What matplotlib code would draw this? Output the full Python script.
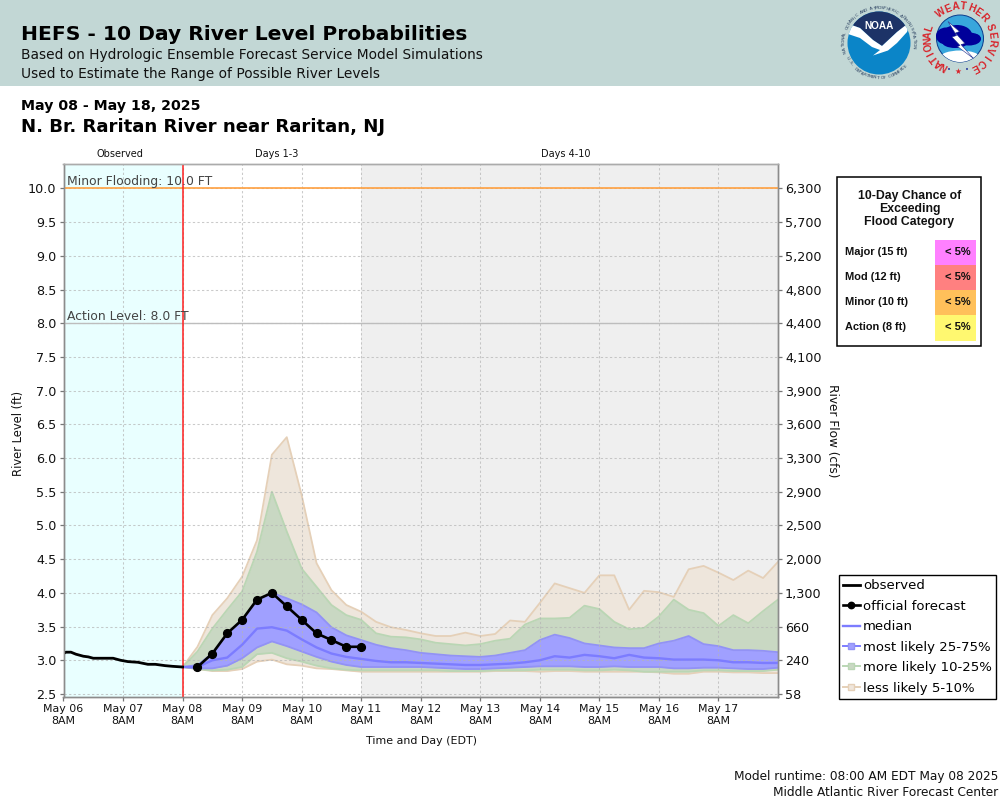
import numpy as np
import matplotlib
matplotlib.use("Agg")
import matplotlib.pyplot as plt
from matplotlib.lines import Line2D
from matplotlib.patches import Rectangle, Circle, Ellipse, Polygon

# ---- data (x in hours from May 08 8AM) ----
obs_hours = [-48,-47,-45,-43,-40,-38,-36,-32,-28,-25,-22,-18,-14,-11,-7,-4,0]
obs_level = [3.10,3.12,3.12,3.09,3.06,3.05,3.03,3.03,3.03,3.00,2.98,2.97,2.94,2.94,2.92,2.91,2.90]
fc_hours = [6,12,18,24,30,36,42,48,54,60,66,72]
fc_level = [2.9,3.1,3.4,3.6,3.9,4.0,3.8,3.6,3.4,3.3,3.2,3.2]
ens_hours = list(range(0,241,6))
tan_top = [2.9,3.2,3.67,3.92,4.24,4.78,6.05,6.31,5.45,4.44,4.04,3.82,3.72,3.57,3.49,3.45,3.40,3.36,3.36,3.41,3.36,3.39,3.59,3.57,3.85,4.14,4.07,4.0,4.26,4.26,3.75,4.03,4.01,3.94,4.35,4.40,4.30,4.19,4.33,4.22,4.46]
green_top = [2.9,3.13,3.47,3.75,4.02,4.61,5.5,4.91,4.36,4.09,3.82,3.67,3.6,3.4,3.35,3.34,3.31,3.26,3.24,3.22,3.24,3.29,3.32,3.53,3.62,3.62,3.63,3.81,3.76,3.57,3.46,3.48,3.65,3.9,3.75,3.7,3.51,3.67,3.55,3.73,3.9]
blue_top = [2.9,2.93,3.1,3.4,3.6,3.87,4.0,3.92,3.83,3.71,3.49,3.37,3.3,3.23,3.18,3.15,3.11,3.09,3.07,3.06,3.05,3.07,3.11,3.15,3.30,3.38,3.33,3.25,3.22,3.19,3.18,3.18,3.25,3.29,3.36,3.24,3.21,3.15,3.15,3.14,3.12]
median = [2.9,2.9,3.0,3.04,3.23,3.47,3.49,3.44,3.31,3.19,3.1,3.05,3.02,2.99,2.97,2.97,2.96,2.95,2.94,2.93,2.93,2.94,2.95,2.97,3.0,3.06,3.04,3.08,3.06,3.03,3.08,3.04,3.03,3.01,3.01,3.01,3.0,2.97,2.97,2.96,2.96]
blue_bot = [2.9,2.88,2.88,2.92,3.03,3.19,3.28,3.21,3.13,3.05,2.98,2.93,2.9,2.9,2.9,2.9,2.9,2.89,2.88,2.87,2.87,2.88,2.89,2.9,2.91,2.91,2.91,2.9,2.9,2.91,2.9,2.9,2.9,2.88,2.88,2.89,2.89,2.88,2.87,2.87,2.89]
green_bot = [2.9,2.87,2.85,2.86,2.9,3.09,3.11,3.03,2.98,2.92,2.88,2.86,2.85,2.85,2.85,2.85,2.85,2.85,2.84,2.84,2.84,2.85,2.85,2.85,2.86,2.86,2.86,2.85,2.85,2.86,2.85,2.83,2.83,2.83,2.83,2.85,2.85,2.84,2.84,2.84,2.86]
tan_bot = [2.9,2.87,2.84,2.84,2.87,2.98,3.01,2.94,2.92,2.88,2.87,2.85,2.83,2.83,2.83,2.83,2.83,2.83,2.83,2.83,2.83,2.84,2.84,2.84,2.83,2.84,2.84,2.83,2.83,2.83,2.83,2.83,2.82,2.80,2.80,2.83,2.83,2.82,2.82,2.81,2.81]

level_ticks = [2.5,3.0,3.5,4.0,4.5,5.0,5.5,6.0,6.5,7.0,7.5,8.0,8.5,9.0,9.5,10.0]
flow_labels = ["58","240","660","1,300","2,000","2,500","2,900","3,300","3,600","3,900","4,100","4,400","4,800","5,200","5,700","6,300"]
day_hours = list(range(-48,217,24))
day_labels = ["May %02d\n8AM" % d for d in range(6,18)]
cat_names = ["Major (15 ft)","Mod (12 ft)","Minor (10 ft)","Action (8 ft)"]
cat_chance = ["< 5%","< 5%","< 5%","< 5%"]
cat_colors = ["#FF80FF","#FF8080","#FFC05A","#FFF870"]

TAN="#EEE6DC"; GREEN="#C9D8C3"; BLUE="#A0A0FF"
TAN_E="#E5D0B8"; GREEN_E="#BAD6B4"; BLUE_E="#9292F5"; MED="#7C7CFF"

fig = plt.figure(figsize=(10,8),dpi=100,facecolor="white")
L,R,T,B = 63.5,778,164,697
ax = fig.add_axes([L/1000,1-B/800,(R-L)/1000,(B-T)/800])
ax.set_xlim(-48,240)
ax.set_ylim(2.455,10.363)
ax.axvspan(-48,0,color="#E9FFFF",lw=0,zorder=0)
ax.axvspan(72,240,color="#EFEFEF",lw=0,zorder=0)
ax.set_axisbelow(False)
ax.grid(True,color="#B4B4B4",alpha=0.7,ls=(0,(2.2,2.2)),lw=0.75,zorder=3.5)
ax.set_xticks(day_hours); ax.set_xticklabels(day_labels,fontsize=7.9,linespacing=1.2,color="#111111")
ax.set_yticks(level_ticks); ax.set_yticklabels(["%.1f"%v for v in level_ticks],fontsize=9.2,color="#111111")
ax.tick_params(axis="both",color="#777777",length=3,width=0.9,pad=2)
def style_spines(a):
    for s in a.spines.values():
        s.set_linewidth(1.0); s.set_color("#8C8C8C")
    a.spines["top"].set_color("#ABABAB")
style_spines(ax)

h=ens_hours
ax.fill_between(h,tan_bot,tan_top,color=TAN,lw=0,zorder=2)
ax.fill_between(h,green_bot,green_top,color=GREEN,lw=0,zorder=2.1)
ax.fill_between(h,blue_bot,blue_top,color=BLUE,lw=0,zorder=2.2)
for s,c,z in [(tan_top,TAN_E,2.05),(tan_bot,TAN_E,2.05),(green_top,GREEN_E,2.15),(green_bot,GREEN_E,2.15),(blue_top,BLUE_E,2.25),(blue_bot,BLUE_E,2.25)]:
    ax.plot(h,s,color=c,lw=1.3,zorder=z)
ax.plot(h,median,color=MED,lw=1.7,zorder=4)
ax.axhline(10,color="#FFA040",lw=1.2,zorder=3)
ax.axhline(8,color="#BDBDBD",lw=1.0,zorder=3)
ax.axvline(0,color="#FF2020",lw=1.1,zorder=5)
ax.plot(obs_hours,obs_level,color="black",lw=2.0,zorder=6)
ax.plot(fc_hours,fc_level,color="black",lw=1.9,marker="o",ms=5.6,zorder=7)
ax.text(-46.7,10.0+0.005,"Minor Flooding: 10.0 FT",fontsize=8.95,color="#444444",va="bottom",ha="left",zorder=8)
ax.text(-46.7,8.0+0.005,"Action Level: 8.0 FT",fontsize=8.95,color="#444444",va="bottom",ha="left",zorder=8)

ax2=ax.twinx()
ax2.set_ylim(ax.get_ylim())
ax2.set_yticks(level_ticks); ax2.set_yticklabels(flow_labels,fontsize=9.2,color="#111111")
ax2.tick_params(axis="y",color="#777777",length=3,width=0.9,pad=2)
style_spines(ax2)

handles=[
 Line2D([],[],color="black",lw=2.0),
 Line2D([],[],color="black",lw=1.9,marker="o",ms=4.6),
 Line2D([],[],color=MED,lw=1.7),
 Line2D([],[],color=MED,lw=1.4,marker="s",ms=5,mfc="#A0A0FF",mec=BLUE_E),
 Line2D([],[],color=GREEN_E,lw=1.4,marker="s",ms=5,mfc="#C9D8C3",mec=GREEN_E),
 Line2D([],[],color=TAN_E,lw=1.4,marker="s",ms=5,mfc="#EFE6DC",mec=TAN_E),
]
leg=fig.legend(handles,["observed","official forecast","median","most likely 25-75%","more likely 10-25%","less likely 5-10%"],
    loc="lower left",bbox_to_anchor=(839/1000,1-698.5/800),bbox_transform=fig.transFigure,
    fontsize=9.55,frameon=True,fancybox=False,edgecolor="black",framealpha=1,
    handlelength=1.25,handletextpad=0.25,borderpad=0.3,labelspacing=0.56,borderaxespad=0)
leg.get_frame().set_linewidth(1.0)
leg.set_zorder(20)

# overlay in pixel coordinates
ov=fig.add_axes([0,0,1,1],zorder=10)
ov.set_xlim(0,1000); ov.set_ylim(800,0); ov.axis("off"); ov.patch.set_alpha(0)
ov.add_patch(Rectangle((0,0),1000,86,fc="#C2D7D5",ec="none"))
def tx(x,y,s,**k):
    k.setdefault("va","baseline"); k.setdefault("ha","left")
    ov.text(x,y,s,**k)
tx(21,40,"HEFS - 10 Day River Level Probabilities",fontsize=14.6,fontweight="bold",color="black")
tx(21,59,"Based on Hydrologic Ensemble Forecast Service Model Simulations",fontsize=9.95,color="#111111")
tx(21,78,"Used to Estimate the Range of Possible River Levels",fontsize=9.95,color="#111111")
tx(21,110,"May 08 - May 18, 2025",fontsize=10.2,fontweight="bold",color="black")
tx(21,132,"N. Br. Raritan River near Raritan, NJ",fontsize=13.1,fontweight="bold",color="black")
tx(120,157,"Observed",fontsize=7,ha="center",color="#111111")
tx(276.5,157,"Days 1-3",fontsize=7,ha="center",color="#111111")
tx(566,157,"Days 4-10",fontsize=7,ha="center",color="#111111")
tx(19,433,"River Level (ft)",fontsize=8.3,rotation=90,ha="center",va="center",color="#111111")
tx(832,431,"River Flow (cfs)",fontsize=8.7,rotation=270,ha="center",va="center",color="#111111")
tx(421,743.5,"Time and Day (EDT)",fontsize=7.9,ha="center",color="#111111")
tx(998,780,"Model runtime: 08:00 AM EDT May 08 2025",fontsize=8.78,ha="right",color="#111111")
tx(998,796,"Middle Atlantic River Forecast Center",fontsize=8.78,ha="right",color="#111111")

# flood-category panel
ov.add_patch(Rectangle((836.5,176.5),144,169,fc="white",ec="black",lw=1.1))
for i,t in enumerate(["10-Day Chance of","Exceeding","Flood Category"]):
    tx(909.5,199+13*i,t,family="Liberation Sans",fontweight="bold",fontsize=8.85,ha="center",color="#111111")
for i,(n,c,col) in enumerate(zip(cat_names,cat_chance,cat_colors)):
    top=240+25*i
    ov.add_patch(Rectangle((935,top),41,25.5,fc=col,ec="none"))
    tx(845,top+15,n,family="Liberation Sans",fontweight="bold",fontsize=7.95,color="#111111")
    tx(957.5,top+15,c,family="Liberation Sans",fontweight="bold",fontsize=8,ha="center",color="#111111")

def ring(cx,cy,r,s,a0,a1,flip=False,**k):
    for ch,a in zip(s,np.linspace(a0,a1,len(s))):
        rad=np.deg2rad(a)
        ov.text(cx+r*np.sin(rad),cy-r*np.cos(rad),ch,rotation=(180-a) if flip else -a,
                rotation_mode="anchor",ha="center",va="center",**k)

# NOAA emblem
cx,cy=879,43
disc=Circle((cx,cy),31.5,fc="#0B85C8",ec="none"); ov.add_patch(disc)
navy=Polygon([(846,23),(860,28),(873,40),(882,46),(897,32),(911,22),(911,5),(846,5)],fc="#1D3367",ec="none"); ov.add_patch(navy); navy.set_clip_path(disc)
bird=Polygon([(845,33),(860,38),(872,47),(880,50),(873,55.5),(888,50.5),(897,43),(907,32),(911,21),(897,32),(882,46),(873,40),(860,28),(846,23)],fc="white",ec="none"); ov.add_patch(bird); bird.set_clip_path(disc)
tx(879,29,"NOAA",family="Liberation Sans",fontweight="bold",fontsize=7.2,ha="center",color="white")
ring(cx,cy,35,"NATIONAL OCEANIC AND ATMOSPHERIC ADMINISTRATION",-104,96,fontsize=3.2,color="#2A4060")
ring(cx,cy,35,"U.S. DEPARTMENT OF COMMERCE"[::-1],131,244,flip=True,fontsize=3.2,color="#2A4060")

# NWS emblem
cx,cy=960,38.5
sky=Circle((cx,cy),23.5,fc="#38A6DC",ec="#0B3C8C",lw=0.7); ov.add_patch(sky)
ground=Ellipse((cx,cy+19),40,14,fc="white",ec="none"); ov.add_patch(ground); ground.set_clip_path(sky)
for ex,ey,ew,eh in [(946,36,20,17),(957,35,30,20),(969,39,24,13),(975,38,11,8),(955,42,26,12)]:
    ov.add_patch(Ellipse((ex,ey),ew,eh,fc="#00009A",ec="none"))
ov.add_patch(Polygon([(948,21.5),(959.5,31.5),(955.5,33),(965,43.5),(961,44.5),(973.5,58.5),(957.5,46.5),(960,45.5),(952,37),(956.5,35.5)],fc="white",ec="#1C2C8C",lw=0.4))
nws=dict(fontsize=7.2,fontweight="bold",family="Liberation Sans",color="#D8232A")
ring(cx,cy,32,"NATIONAL",-150,-72,**nws)
ring(cx,cy,32,"WEATHER",-36,49,**nws)
ring(cx,cy,32,"SERVICE",70,152,**nws)
tx(949,72.5,"•",family="DejaVu Sans",fontsize=5,ha="center",color="#2A3CA0")
tx(967,72.5,"•",family="DejaVu Sans",fontsize=5,ha="center",color="#2A3CA0")
tx(958,74,"★",family="DejaVu Sans",fontsize=5.5,ha="center",color="#D8232A")

fig.savefig("out.png",dpi=100,facecolor="white")
